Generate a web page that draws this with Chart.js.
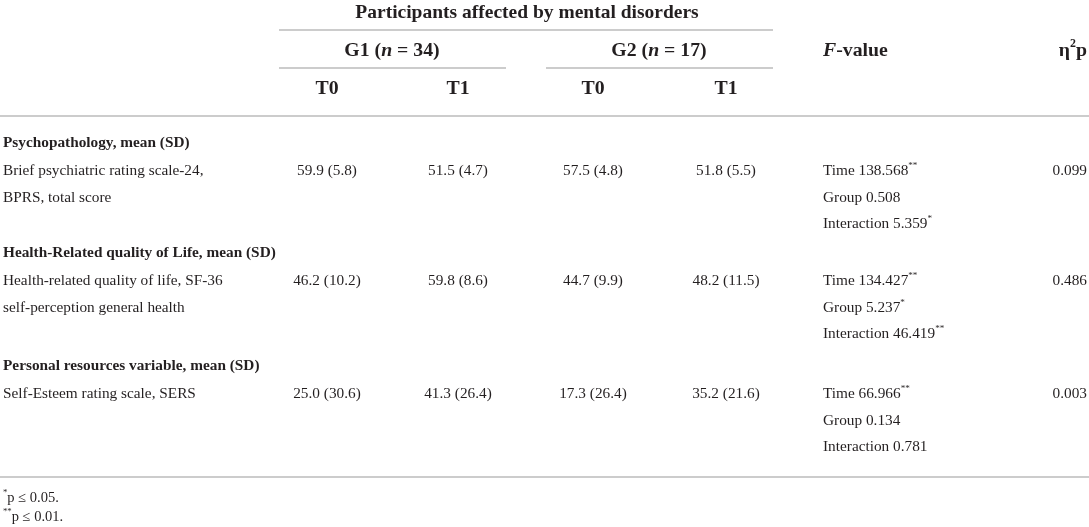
<!DOCTYPE html>
<html><head><meta charset="utf-8">
<script src="https://cdn.jsdelivr.net/npm/chart.js@4/dist/chart.umd.min.js"></script>
<style>html,body{margin:0;padding:0;background:#fff;overflow:hidden}#wrap{width:1089px;height:527px}</style>
</head><body><div id="wrap"><canvas id="c" width="1089" height="527"></canvas></div>
<script>
// ---------- DATA ----------
const spanTitle = "Participants affected by mental disorders";
const groups = ["G1", "G2"];
const groupN = [34, 17];
const times = ["T0", "T1"];
const sections = ["Psychopathology, mean (SD)", "Health-Related quality of Life, mean (SD)", "Personal resources variable, mean (SD)"];
const measures = [["Brief psychiatric rating scale-24,", "BPRS, total score"], ["Health-related quality of life, SF-36", "self-perception general health"], ["Self-Esteem rating scale, SERS"]];
const g1T0Mean = [59.9, 46.2, 25.0], g1T0SD = [5.8, 10.2, 30.6];
const g1T1Mean = [51.5, 59.8, 41.3], g1T1SD = [4.7, 8.6, 26.4];
const g2T0Mean = [57.5, 44.7, 17.3], g2T0SD = [4.8, 9.9, 26.4];
const g2T1Mean = [51.8, 48.2, 35.2], g2T1SD = [5.5, 11.5, 21.6];
const effects = ["Time", "Group", "Interaction"];
const fTime = ["138.568", "134.427", "66.966"], fTimeSig = ["**", "**", "**"];
const fGroup = ["0.508", "5.237", "0.134"], fGroupSig = ["", "*", ""];
const fInter = ["5.359", "46.419", "0.781"], fInterSig = ["*", "**", ""];
const etaP = ["0.099", "0.486", "0.003"];
const footnotes = [["*", "p ≤ 0.05."], ["**", "p ≤ 0.01."]];

// ---------- LAYOUT (table geometry in scale units) ----------
const L = {
  colLabel: 3, colData: [327, 458, 593, 726], colF: 823, colEta: 1087,
  spanL: 279, spanR: 773, grpL: [279, 546], grpR: [506, 773], grpC: [392, 659], spanC: 527,
  yTitle: 13, yRule1: 30, yGrp: 51, yRule2: 68, yTime: 89, yRule3: 116,
  ySection: [143, 253, 366], lineOff: [28, 55, 81], yRuleEnd: 477, yFoot: [498, 517],
  full: [0, 1089]
};
const FAM = '"Liberation Serif", "Times New Roman", serif';
const INK = '#231f20', RULE = '#cccccc';
const S = { title: 19.5, head: 19.8, body: 15.3, sect: 15.3 };

function fmt(m, s) { return m.toFixed(1) + " (" + s.toFixed(1) + ")"; }

function drawRich(ctx, segs, x, y, align, size, bold) {
  const font = (sg) => (sg.i ? 'italic ' : '') + (bold ? 'bold ' : '') + (sg.sup ? size * 0.6 : size) + 'px ' + FAM;
  let w = 0;
  segs.forEach(sg => { ctx.font = font(sg); sg.w = ctx.measureText(sg.t).width; w += sg.w; });
  let cx = align === 'center' ? x - w / 2 : align === 'right' ? x - w : x;
  ctx.textAlign = 'left'; ctx.textBaseline = 'middle'; ctx.fillStyle = INK;
  segs.forEach(sg => {
    ctx.font = font(sg);
    ctx.fillText(sg.t, cx, sg.sup ? y - size * 0.36 : y);
    cx += sg.w;
  });
}

const tablePlugin = {
  id: 'table',
  afterDraw(chart) {
    const ctx = chart.ctx, X = v => chart.scales.x.getPixelForValue(v), Y = v => chart.scales.y.getPixelForValue(v);
    ctx.save();
    const rule = (x1, x2, y) => { ctx.strokeStyle = RULE; ctx.lineWidth = 1.8; ctx.beginPath(); ctx.moveTo(X(x1), Y(y)); ctx.lineTo(X(x2), Y(y)); ctx.stroke(); };
    // header
    drawRich(ctx, [{ t: spanTitle }], X(L.spanC), Y(L.yTitle), 'center', S.title, true);
    rule(L.spanL, L.spanR, L.yRule1);
    groups.forEach((g, k) => {
      drawRich(ctx, [{ t: g + " (" }, { t: "n", i: true }, { t: " = " + groupN[k] + ")" }], X(L.grpC[k]), Y(L.yGrp), 'center', S.head, true);
      rule(L.grpL[k], L.grpR[k], L.yRule2);
      times.forEach((t, j) => drawRich(ctx, [{ t }], X(L.colData[k * 2 + j]), Y(L.yTime), 'center', S.head, true));
    });
    drawRich(ctx, [{ t: "F", i: true }, { t: "-value" }], X(L.colF), Y(L.yGrp), 'left', S.head, true);
    drawRich(ctx, [{ t: "η" }, { t: "2", sup: true }, { t: "p" }], X(L.colEta), Y(L.yGrp), 'right', S.head, true);
    rule(L.full[0], L.full[1], L.yRule3);
    // body
    const cols = [[g1T0Mean, g1T0SD], [g1T1Mean, g1T1SD], [g2T0Mean, g2T0SD], [g2T1Mean, g2T1SD]];
    const fv = [[fTime, fTimeSig], [fGroup, fGroupSig], [fInter, fInterSig]];
    sections.forEach((sec, r) => {
      const y0 = L.ySection[r];
      drawRich(ctx, [{ t: sec }], X(L.colLabel), Y(y0), 'left', S.sect, true);
      measures[r].forEach((m, q) => drawRich(ctx, [{ t: m }], X(L.colLabel), Y(y0 + L.lineOff[q]), 'left', S.body, false));
      cols.forEach((c, j) => drawRich(ctx, [{ t: fmt(c[0][r], c[1][r]) }], X(L.colData[j]), Y(y0 + L.lineOff[0]), 'center', S.body, false));
      fv.forEach((f, q) => {
        const segs = [{ t: effects[q] + " " + f[0][r] }];
        if (f[1][r]) segs.push({ t: f[1][r], sup: true });
        drawRich(ctx, segs, X(L.colF), Y(y0 + L.lineOff[q]), 'left', S.body, false);
      });
      drawRich(ctx, [{ t: etaP[r] }], X(L.colEta), Y(y0 + L.lineOff[0]), 'right', S.body, false);
    });
    rule(L.full[0], L.full[1], L.yRuleEnd);
    footnotes.forEach((f, k) => drawRich(ctx, [{ t: f[0], sup: true }, { t: f[1] }], X(L.colLabel), Y(L.yFoot[k]), 'left', S.body * 0.95, false));
    ctx.restore();
  }
};

new Chart(document.getElementById('c'), {
  type: 'scatter',
  data: { datasets: [{ data: [], pointRadius: 0 }] },
  options: {
    responsive: false, animation: false, devicePixelRatio: 1,
    layout: { padding: 0 },
    plugins: { legend: { display: false }, tooltip: { enabled: false } },
    scales: {
      x: { type: 'linear', min: 0, max: 1089, display: false },
      y: { type: 'linear', min: 0, max: 527, reverse: true, display: false }
    }
  },
  plugins: [tablePlugin]
});
</script></body></html>
